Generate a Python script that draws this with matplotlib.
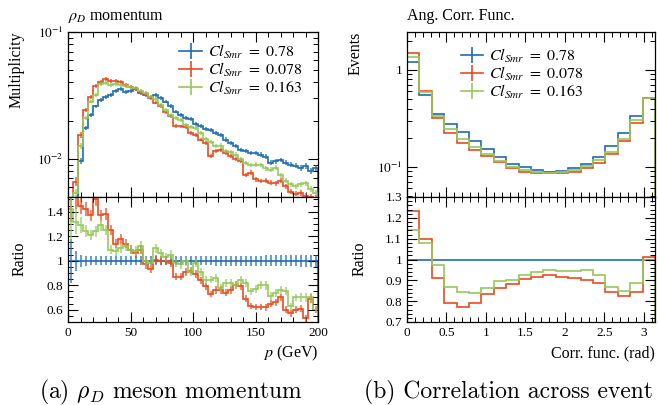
import numpy as np
import matplotlib
matplotlib.use('Agg')
import matplotlib.pyplot as plt
from matplotlib.ticker import MultipleLocator, LogLocator, FuncFormatter, NullFormatter
from matplotlib.lines import Line2D

plt.rcParams['font.family'] = ['Liberation Serif', 'DejaVu Serif']
plt.rcParams['mathtext.fontset'] = 'stix'

# ---- data: rho_D momentum (50 bins, 0-200 GeV) ----
p_edges = np.linspace(0, 200, 51)
mom_078 = [0.003, 0.004, 0.0096, 0.0175, 0.0222, 0.0259, 0.0292, 0.0306, 0.0319, 0.0345,
           0.0353, 0.0339, 0.0345, 0.0353, 0.0333, 0.0319, 0.0310, 0.0319, 0.0301, 0.0283,
           0.0262, 0.0236, 0.0222, 0.0209, 0.0206, 0.0189, 0.0182, 0.0172, 0.0170, 0.0160,
           0.0155, 0.0142, 0.0133, 0.0126, 0.0117, 0.0115, 0.0111, 0.0111, 0.0108, 0.0104,
           0.0093, 0.0096, 0.0098, 0.0093, 0.0090, 0.0088, 0.0085, 0.0088, 0.0080, 0.0085]
mom_0078 = [0.004, 0.0066, 0.0155, 0.0243, 0.0306, 0.0375, 0.0406, 0.0425, 0.0413, 0.0411,
            0.0406, 0.0382, 0.0366, 0.0353, 0.0339, 0.0323, 0.0301, 0.0278, 0.0262, 0.0232,
            0.0216, 0.0182, 0.0180, 0.0177, 0.0160, 0.0155, 0.0142, 0.0133, 0.0106, 0.0115,
            0.0118, 0.0111, 0.0105, 0.0100, 0.0096, 0.0075, 0.0078, 0.0069, 0.0067, 0.0067,
            0.0065, 0.0064, 0.0067, 0.0061, 0.0055, 0.0053, 0.0054, 0.0051, 0.0050, 0.0049]
mom_0163 = [0.004, 0.0054, 0.0126, 0.0209, 0.0283, 0.0319, 0.0389, 0.0394, 0.0382, 0.0387,
            0.0382, 0.0378, 0.0371, 0.0360, 0.0345, 0.0329, 0.0310, 0.0295, 0.0267, 0.0243,
            0.0222, 0.0209, 0.0203, 0.0186, 0.0178, 0.0175, 0.0160, 0.0143, 0.0135, 0.0126,
            0.0127, 0.0115, 0.0113, 0.0108, 0.0100, 0.0093, 0.0089, 0.0090, 0.0089, 0.0084,
            0.0082, 0.0085, 0.0074, 0.0067, 0.0063, 0.0061, 0.0063, 0.0064, 0.0058, 0.0054]
mom_relerr = [0.18, 0.08, 0.05, 0.04, 0.035, 0.035, 0.035, 0.035, 0.035, 0.035,
              0.035, 0.035, 0.035, 0.035, 0.035, 0.035, 0.035, 0.035, 0.035, 0.035,
              0.035, 0.035, 0.035, 0.035, 0.035, 0.035, 0.035, 0.035, 0.035, 0.04,
              0.04, 0.04, 0.04, 0.04, 0.04, 0.04, 0.04, 0.04, 0.04, 0.045,
              0.045, 0.045, 0.045, 0.045, 0.045, 0.045, 0.05, 0.05, 0.05, 0.05]
ratio_mom_0078 = [1.60, 1.55, 1.45, 1.42, 1.37, 1.50, 1.37, 1.38, 1.25, 1.14,
                  1.18, 1.14, 1.09, 1.06, 1.09, 0.97, 0.935, 1.01, 1.00, 1.00,
                  0.98, 0.87, 0.87, 0.91, 0.92, 0.89, 0.84, 0.79, 0.73, 0.76,
                  0.76, 0.74, 0.76, 0.80, 0.79, 0.69, 0.63, 0.62, 0.62, 0.62,
                  0.65, 0.66, 0.70, 0.60, 0.57, 0.60, 0.61, 0.53, 0.69, 0.60]
ratio_mom_0163 = [1.42, 1.32, 1.29, 1.24, 1.21, 1.24, 1.29, 1.25, 1.09, 1.08,
                  1.10, 1.12, 1.09, 1.08, 1.12, 0.995, 0.98, 1.10, 1.06, 1.03,
                  1.05, 0.98, 0.97, 0.995, 0.91, 0.98, 0.91, 0.845, 0.845, 0.86,
                  0.78, 0.82, 0.82, 0.80, 0.845, 0.82, 0.75, 0.77, 0.80, 0.80,
                  0.71, 0.74, 0.76, 0.755, 0.63, 0.70, 0.70, 0.70, 0.70, 0.60]

# ---- data: angular correlation (20 bins, 0-pi) ----
ang_edges = np.linspace(0, np.pi, 21)
ang_078 = [1.20, 0.551, 0.348, 0.276, 0.230, 0.186, 0.151, 0.127, 0.108, 0.0985,
           0.0924, 0.0888, 0.0910, 0.0962, 0.1066, 0.125, 0.164, 0.225, 0.337, 0.517]
ang_0078 = [1.487, 0.611, 0.316, 0.221, 0.174, 0.149, 0.129, 0.111, 0.0962, 0.0888,
            0.0853, 0.0853, 0.0853, 0.0888, 0.0962, 0.110, 0.137, 0.186, 0.285, 0.517]
ang_0163 = [1.374, 0.597, 0.334, 0.243, 0.192, 0.161, 0.135, 0.1136, 0.100, 0.0924,
            0.0874, 0.0867, 0.0881, 0.0924, 0.1024, 0.117, 0.143, 0.192, 0.304, 0.517]
ratio_ang_0078 = [1.234, 1.10, 0.909, 0.792, 0.77, 0.792, 0.834, 0.861, 0.882, 0.906,
                  0.917, 0.925, 0.917, 0.909, 0.904, 0.888, 0.842, 0.824, 0.845, 1.013]
ratio_ang_0163 = [1.14, 1.077, 0.973, 0.869, 0.842, 0.837, 0.864, 0.898, 0.904, 0.925,
                  0.941, 0.949, 0.946, 0.944, 0.949, 0.925, 0.869, 0.85, 0.888, 1.0]

labels = [r'$Cl_{Smr}\ =\ 0.78$', r'$Cl_{Smr}\ =\ 0.078$', r'$Cl_{Smr}\ =\ 0.163$']
colors = ['#1f6cb0', '#ea4a1e', '#95c95a']

W, H = 658, 405
fig = plt.figure(figsize=(W / 100, H / 100), dpi=100)


def fx(px):
    return px / W


def fy(py):
    return 1 - py / H


def style(ax):
    ax.tick_params(which='both', direction='in', top=True, right=True, labelsize=9.5)
    ax.tick_params(which='major', length=7, width=0.8)
    ax.tick_params(which='minor', length=3.5, width=0.7)
    for s in ax.spines.values():
        s.set_linewidth(0.9)


def logfmt(v, pos):
    if abs(v - 1) < 1e-9:
        return '1'
    return r'$10^{%d}$' % int(round(np.log10(v)))


gfmt = FuncFormatter(lambda v, p: '%g' % round(v, 2))


def draw_hist(ax, edges, vals, col, err=None):
    vals = np.asarray(vals)
    ax.stairs(vals, edges, color=col, lw=1.2)
    if err is not None:
        centers = 0.5 * (edges[1:] + edges[:-1])
        ax.errorbar(centers, vals, yerr=err, fmt='none', ecolor=col, elinewidth=1.1, alpha=0.85)


top, mid, bot = 32, 197, 322

# ---- left panel ----
axL = fig.add_axes([fx(68), fy(mid), fx(318) - fx(68), fy(top) - fy(mid)])
axLr = fig.add_axes([fx(68), fy(bot), fx(318) - fx(68), fy(mid) - fy(bot)], sharex=axL)
relerr = np.asarray(mom_relerr)
for vals, col in zip([mom_078, mom_0078, mom_0163], colors):
    draw_hist(axL, p_edges, vals, col, np.asarray(vals) * relerr)
axL.set_yscale('log')
axL.set_ylim(0.005, 0.1)
axL.set_xlim(0, 200)
axL.yaxis.set_major_locator(LogLocator(base=10))
axL.yaxis.set_minor_locator(LogLocator(base=10, subs=np.arange(2, 10)))
axL.yaxis.set_major_formatter(FuncFormatter(logfmt))
axL.yaxis.set_minor_formatter(NullFormatter())
style(axL)
axL.tick_params(labelbottom=False)

draw_hist(axLr, p_edges, np.ones(50), colors[0], relerr)
draw_hist(axLr, p_edges, ratio_mom_0078, colors[1], np.asarray(ratio_mom_0078) * relerr)
draw_hist(axLr, p_edges, ratio_mom_0163, colors[2], np.asarray(ratio_mom_0163) * relerr)
axLr.set_ylim(0.5, 1.52)
axLr.yaxis.set_major_locator(MultipleLocator(0.2))
axLr.yaxis.set_minor_locator(MultipleLocator(0.05))
axLr.yaxis.set_major_formatter(gfmt)
axLr.xaxis.set_major_locator(MultipleLocator(50))
axLr.xaxis.set_minor_locator(MultipleLocator(10))
axLr.xaxis.set_major_formatter(gfmt)
style(axLr)

# ---- right panel ----
axR = fig.add_axes([fx(407), fy(mid), fx(655) - fx(407), fy(top) - fy(mid)])
axRr = fig.add_axes([fx(407), fy(bot), fx(655) - fx(407), fy(mid) - fy(bot)], sharex=axR)
for vals, col in zip([ang_078, ang_0078, ang_0163], colors):
    draw_hist(axR, ang_edges, vals, col)
axR.set_yscale('log')
axR.set_ylim(0.0487, 2.47)
axR.set_xlim(0, np.pi)
axR.yaxis.set_major_locator(LogLocator(base=10))
axR.yaxis.set_minor_locator(LogLocator(base=10, subs=np.arange(2, 10)))
axR.yaxis.set_major_formatter(FuncFormatter(logfmt))
axR.yaxis.set_minor_formatter(NullFormatter())
style(axR)
axR.tick_params(labelbottom=False)

draw_hist(axRr, ang_edges, np.ones(20), colors[0])
draw_hist(axRr, ang_edges, ratio_ang_0078, colors[1])
draw_hist(axRr, ang_edges, ratio_ang_0163, colors[2])
axRr.set_ylim(0.7, 1.3)
axRr.yaxis.set_major_locator(MultipleLocator(0.1))
axRr.yaxis.set_minor_locator(MultipleLocator(0.02))
axRr.yaxis.set_major_formatter(gfmt)
axRr.xaxis.set_major_locator(MultipleLocator(0.5))
axRr.xaxis.set_minor_locator(MultipleLocator(0.1))
axRr.xaxis.set_major_formatter(gfmt)
style(axRr)

# legends
handles = [Line2D([], [], color=c, lw=1.2, marker='|', markersize=11, markeredgewidth=1.2)
           for c in colors]
axL.legend(handles, labels, loc='upper left', bbox_to_anchor=(0.42, 0.975), frameon=False,
           fontsize=11.5, handlelength=1.4, handletextpad=0.4, labelspacing=0.0,
           borderaxespad=0)
axR.legend(handles, labels, loc='upper left', bbox_to_anchor=(0.19, 0.95), frameon=False,
           fontsize=11.5, handlelength=1.4, handletextpad=0.4, labelspacing=0.0,
           borderaxespad=0)

# titles and axis labels
fs = 11.5
fig.text(fx(68), fy(20), r'$\rho_D$ momentum', fontsize=fs, ha='left', va='baseline')
fig.text(fx(407), fy(20), 'Ang. Corr. Func.', fontsize=fs, ha='left', va='baseline')
fig.text(fx(17), fy(top), 'Multiplicity', fontsize=fs, rotation=90, ha='center', va='top')
fig.text(fx(356), fy(top), 'Events', fontsize=fs, rotation=90, ha='center', va='top')
fig.text(fx(20), fy(259), 'Ratio', fontsize=fs, rotation=90, ha='center', va='center')
fig.text(fx(360), fy(259), 'Ratio', fontsize=fs, rotation=90, ha='center', va='center')
fig.text(fx(318), fy(353), r'$p$ (GeV)', fontsize=fs, ha='right', va='center')
fig.text(fx(655), fy(353), 'Corr. func. (rad)', fontsize=fs, ha='right', va='center')

# captions
fig.text(fx(171), fy(392), r'(a) $\rho_D$ meson momentum', family='cmr10',
         math_fontfamily='cm', fontsize=17, ha='center', va='center')
fig.text(fx(508), fy(392), '(b) Correlation across event', family='cmr10',
         math_fontfamily='cm', fontsize=17, ha='center', va='center')

fig.savefig('out.png', dpi=100)
